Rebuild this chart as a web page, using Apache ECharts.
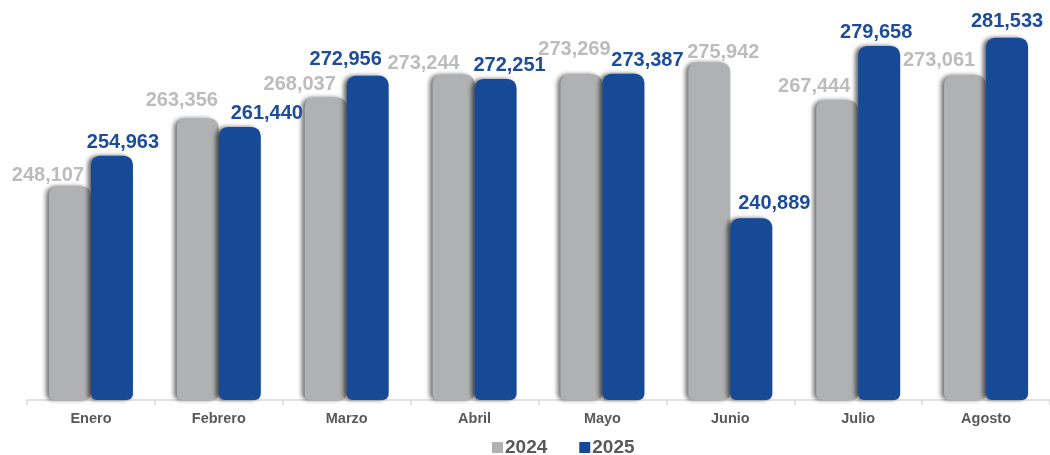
<!DOCTYPE html>
<html>
<head>
<meta charset="utf-8">
<script src="https://cdn.jsdelivr.net/npm/echarts@6/dist/echarts.min.js"></script>
<style>
html,body{margin:0;padding:0;background:#fff;}
#c{width:1050px;height:455px;}
</style>
</head>
<body>
<div id="c"></div>
<script>
const categories = ['Enero','Febrero','Marzo','Abril','Mayo','Junio','Julio','Agosto'];
const values2024 = [248107,263356,268037,273244,273269,275942,267444,273061];
const values2025 = [254963,261440,272956,272251,273387,240889,279658,281533];
const seriesNames = ['2024','2025'];

// label nudges (style only): horizontal shift and extra lift, px
const shift2024X = [-22,-16,-26,-30,-7,14,-23,-26];
const shift2024Y = [0,7,2,0,14,-1,3,4];
const shift2025X = [11,27,-22,14,24,23,-3,0];
const shift2025Y = [2,2,5,2,2,4,2,5];

const fmt = v => String(v).replace(/\B(?=(\d{3})+(?!\d))/g, ',');

function build(vals, sx, sy) {
  return vals.map((v, i) => ({
    value: v,
    label: { offset: [sx[i], -sy[i]] }
  }));
}

const chart = echarts.init(document.getElementById('c'));
const labelBase = {
  show: true, position: 'top', distance: 1,
  fontFamily: 'Liberation Sans, Arial, sans-serif', fontWeight: 'bold', fontSize: 20,
  formatter: p => fmt(p.value)
};
chart.setOption({
  animation: false,
  grid: { left: 27, right: -1, top: 0, bottom: 55 },
  legend: {
    data: seriesNames, left: 492, top: 438, padding: 0, itemWidth: 11, itemHeight: 11, itemGap: 32,
    icon: 'rect',
    textStyle: { fontFamily: 'Liberation Sans, Arial, sans-serif', fontWeight: 700, fontSize: 19, color: '#595959', padding: [0,0,0,-3] }
  },
  xAxis: {
    type: 'category', data: categories,
    axisLine: { lineStyle: { color: '#d9d9d9', width: 1.5 } },
    axisTick: { show: true, length: 5, lineStyle: { color: '#d9d9d9', width: 1.5 } },
    axisLabel: { fontFamily: 'Liberation Sans, Arial, sans-serif', fontWeight: 'bold', fontSize: 14.5, color: '#595959', margin: 11 }
  },
  yAxis: { type: 'value', min: 200000, max: 290000, show: false, splitLine: { show: false } },
  series: [
    {
      name: seriesNames[0], type: 'bar', barWidth: 42, barGap: '0%',
      data: build(values2024, shift2024X, shift2024Y),
      itemStyle: { color: '#b0b1b3', borderRadius: [9,9,6,6], shadowColor: 'rgba(0,0,0,0.55)', shadowBlur: 4, shadowOffsetX: -3, shadowOffsetY: 0 },
      label: Object.assign({}, labelBase, { color: '#bcbcbc' })
    },
    {
      name: seriesNames[1], type: 'bar', barWidth: 42,
      data: build(values2025, shift2025X, shift2025Y),
      itemStyle: { color: '#174a96', borderRadius: [9,9,6,6], shadowColor: 'rgba(0,0,0,0.6)', shadowBlur: 4, shadowOffsetX: -3, shadowOffsetY: 0 },
      label: Object.assign({}, labelBase, { color: '#1c4c9a' })
    }
  ]
});
</script>
</body>
</html>
